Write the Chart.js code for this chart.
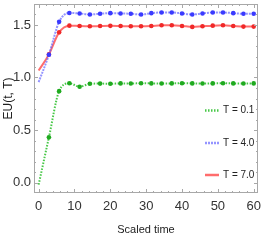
<!DOCTYPE html>
<html>
<head>
<meta charset="utf-8">
<script src="https://cdn.jsdelivr.net/npm/chart.js@4"></script>
<style>
  html, body { margin: 0; padding: 0; background: #fff; }
  #wrap { width: 262px; height: 240px; position: relative; }
</style>
</head>
<body>
<div id="wrap"><canvas id="myChart"></canvas></div>
<script>
const times = [0, 2.86, 5.71, 8.57, 11.43, 14.29, 17.14, 20, 22.86, 25.71, 28.57,
    31.43, 34.29, 37.14, 40, 42.86, 45.71, 48.57, 51.43, 54.29, 57.14, 60];
const euT01 = [-0.02, 0.43, 0.87, 0.945, 0.912, 0.94, 0.942, 0.94, 0.944, 0.943, 0.945,
    0.944, 0.943, 0.944, 0.945, 0.944, 0.943, 0.944, 0.945, 0.944, 0.943, 0.944];
const euT40 = [0.956, 1.216, 1.53, 1.615, 1.61, 1.6, 1.607, 1.613, 1.61, 1.607, 1.6,
    1.613, 1.619, 1.619, 1.61, 1.6, 1.61, 1.619, 1.619, 1.613, 1.607, 1.607];
const euT70 = [1.066, 1.22, 1.43, 1.494, 1.49, 1.488, 1.49, 1.492, 1.49, 1.488, 1.488,
    1.491, 1.497, 1.497, 1.491, 1.482, 1.488, 1.494, 1.497, 1.491, 1.485, 1.485];
const seriesNames = ["T = 0.1", "T = 4.0", "T = 7.0"];
const xTicks = [0, 10, 20, 30, 40, 50, 60];
const yTicks = [0.0, 0.5, 1.0, 1.5];

const fnt = "'Liberation Sans', Arial, sans-serif";

const pts = (ys) => times.map((t, i) => ({ x: t, y: ys[i] }));
const radius = times.map((t, i) => (i === 0 ? 0 : 2.3));

const mkSet = (label, ys, line, mark, dash) => ({
    label: label,
    data: pts(ys),
    borderColor: line,
    backgroundColor: mark,
    pointBackgroundColor: mark,
    pointBorderWidth: 0,
    pointRadius: radius,
    borderWidth: 2,
    borderDash: dash,
    cubicInterpolationMode: "monotone",
});

const sets = [
    mkSet(seriesNames[0], euT01, "rgba(40,190,40,0.85)", "#1faa1f", [1.5, 1.5]),
    mkSet(seriesNames[1], euT40, "rgba(90,90,255,0.65)", "#3a3aff", [2, 1]),
    mkSet(seriesNames[2], euT70, "rgba(255,60,60,0.75)", "#f02828", []),
];

// frame with inward ticks, mathematica style
const frame = {
    id: "frame",
    afterDatasetsDraw(chart) {
        const { ctx, chartArea: a, scales } = chart;
        const xs = scales.x, ys = scales.y;
        ctx.save();
        ctx.strokeStyle = "#a8a8a8";
        ctx.lineWidth = 1;
        ctx.strokeRect(Math.round(a.left) + 0.5, Math.round(a.top) + 0.5,
            Math.round(a.right - a.left) - 1, Math.round(a.bottom - a.top) - 1);
        ctx.beginPath();
        for (let v = 0; v <= 60; v += 2) {
            const px = Math.round(xs.getPixelForValue(v)) + 0.5;
            const len = v % 10 === 0 ? 4 : 2;
            ctx.moveTo(px, a.bottom); ctx.lineTo(px, a.bottom - len);
            ctx.moveTo(px, a.top); ctx.lineTo(px, a.top + len);
        }
        for (let k = 0; k <= 17; k++) {
            const v = k / 10;
            const py = Math.round(ys.getPixelForValue(v)) + 0.5;
            const len = k % 5 === 0 ? 4 : 2;
            ctx.moveTo(a.left, py); ctx.lineTo(a.left + len, py);
            ctx.moveTo(a.right, py); ctx.lineTo(a.right - len, py);
        }
        ctx.stroke();

        // legend
        const rows = [110.5, 143, 175];
        ctx.font = "10px " + fnt;
        ctx.textBaseline = "middle";
        ctx.fillStyle = "#222";
        chart.data.datasets.forEach((ds, i) => {
            ctx.strokeStyle = ds.borderColor;
            ctx.lineWidth = 2.5;
            ctx.setLineDash(ds.borderDash);
            ctx.beginPath();
            ctx.moveTo(205, rows[i]);
            ctx.lineTo(219, rows[i]);
            ctx.stroke();
            ctx.setLineDash([]);
            ctx.fillText(ds.label, 223, rows[i]);
        });
        ctx.restore();
    },
};

new Chart(document.getElementById("myChart"), {
    type: "line",
    data: { datasets: sets },
    options: {
        responsive: true,
        maintainAspectRatio: false,
        animation: false,
        devicePixelRatio: 1,
        layout: { padding: { top: 1, right: 3, left: 0, bottom: 0 } },
        plugins: { legend: { display: false }, tooltip: { enabled: false } },
        scales: {
            x: {
                type: "linear",
                min: -1.3,
                max: 61.2,
                grid: { display: false, drawTicks: false },
                border: { display: false },
                afterBuildTicks: (s) => { s.ticks = xTicks.map((v) => ({ value: v })); },
                afterFit: (s) => { s.height = 47; s.paddingLeft = 0; s.paddingRight = 0; },
                ticks: { color: "#333", padding: 6, maxRotation: 0, font: { family: fnt, size: 13 } },
                title: {
                    display: true, text: "Scaled time", color: "#222",
                    padding: { top: 0, bottom: 3 }, font: { family: fnt, size: 11 },
                },
            },
            y: {
                min: -0.1,
                max: 1.7,
                grid: { display: false, drawTicks: false },
                border: { display: false },
                afterBuildTicks: (s) => { s.ticks = yTicks.map((v) => ({ value: v })); },
                afterFit: (s) => { s.width = 34; s.paddingTop = 0; s.paddingBottom = 0; },
                ticks: {
                    color: "#333", padding: 3, font: { family: fnt, size: 13 },
                    callback: (v) => Number(v).toFixed(1),
                },
                title: {
                    display: true, text: "EU(t, T)", color: "#222",
                    padding: { top: 1, bottom: 0 }, font: { family: fnt, size: 12 },
                },
            },
        },
    },
    plugins: [frame],
});
</script>
</body>
</html>
